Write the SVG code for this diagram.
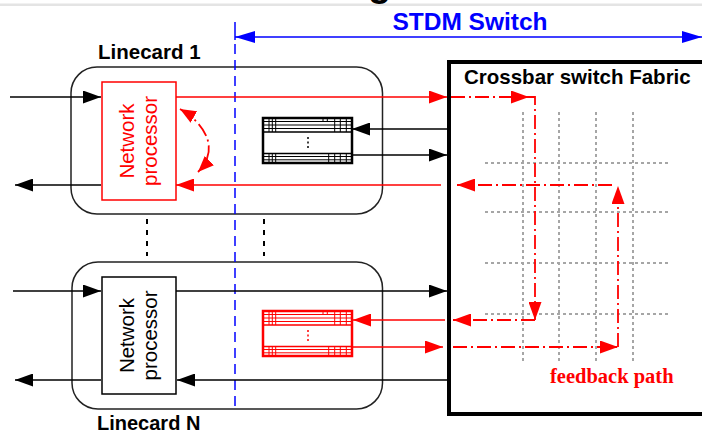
<svg xmlns="http://www.w3.org/2000/svg" width="702" height="434" viewBox="0 0 702 434">
<style>
.t{font-family:"Liberation Sans",Arial,sans-serif;font-weight:bold;}
.np{font-family:"Liberation Sans",Arial,sans-serif;font-size:20.5px;}
.blk{stroke:#000;stroke-width:1.5;fill:none;}
.red{stroke:#ff0000;stroke-width:1.5;fill:none;}
.dd{stroke:#ff0000;stroke-width:1.8;fill:none;stroke-dasharray:14 4 2 4;}
.grid{stroke:#a6a6a6;stroke-width:2;fill:none;stroke-dasharray:3 3;}
.card{stroke:#222;stroke-width:1.5;fill:#fff;}
</style>
<defs>
<marker id="mk" viewBox="0 0 18 13" refX="18" refY="6.5" markerWidth="18" markerHeight="13" markerUnits="userSpaceOnUse" orient="auto-start-reverse"><path d="M0,0L18,6.5L0,13z" fill="#000"/></marker>
<marker id="mr" viewBox="0 0 18 13" refX="18" refY="6.5" markerWidth="18" markerHeight="13" markerUnits="userSpaceOnUse" orient="auto-start-reverse"><path d="M0,0L18,6.5L0,13z" fill="#ff0000"/></marker>
<marker id="mrs" viewBox="0 0 16 13" refX="16" refY="6.5" markerWidth="16" markerHeight="13" markerUnits="userSpaceOnUse" orient="auto-start-reverse"><path d="M0,0L16,6.5L0,13z" fill="#ff0000"/></marker>
<marker id="mb" viewBox="0 0 20 12" refX="20" refY="6" markerWidth="20" markerHeight="12" markerUnits="userSpaceOnUse" orient="auto-start-reverse"><path d="M0,0L20,6L0,12z" fill="#0000ff"/></marker>
<g id="buf">
<rect x="0" y="0" width="89" height="45" fill="#fff" stroke-width="2.5"/>
<path d="M0,3.5H89M0,7H89M0,10.5H89" stroke-width="1"/>
<path d="M0,14H89M0,35.5H89" stroke-width="1.5"/>
<path d="M0,38.5H89M0,41.8H89" stroke-width="1"/>
<path d="M6,0V14M9.3,0V14M12.7,0V14M71.7,0V14M77.3,0V14M83.3,0V14M60,0V3.5M64.3,0V3.5" stroke-width="1"/>
<path d="M6,35.5V45M9.3,35.5V45M12.7,35.5V45M65.7,35.5V45M71.7,35.5V45M77.3,35.5V45M83.3,35.5V45" stroke-width="1"/>
<path d="M45,19V32" stroke-width="1.5" stroke-dasharray="2 2.5"/>
</g>
</defs>
<rect x="0" y="0" width="702" height="434" fill="#fff"/>
<rect x="0" y="3.5" width="702" height="2.5" fill="#e4e4e4"/>
<text class="t" x="368" y="-4" font-size="38" fill="#000">g</text>

<!-- STDM switch extent -->
<g id="stdm">
<path d="M235,22V40" stroke="#0000ff" stroke-width="1.5"/>
<path d="M235,37H702" stroke="#0000ff" stroke-width="1.5" marker-start="url(#mb)" marker-end="url(#mb)"/>
<text class="t" x="470" y="29.5" font-size="24.5" fill="#0000ff" text-anchor="middle">STDM Switch</text>
</g>

<!-- Linecard boxes -->
<g id="linecard1">
<rect class="card" x="71" y="67" width="311.5" height="147" rx="26"/>
<text class="t" x="98" y="59" font-size="20.5" fill="#000">Linecard 1</text>
</g>
<g id="linecardN">
<rect class="card" x="72" y="262" width="310.5" height="147" rx="26"/>
<text class="t" x="97" y="430" font-size="20" fill="#000">Linecard N</text>
</g>

<!-- Crossbar -->
<g id="crossbar">
<rect x="449" y="62" width="300" height="352" fill="#fff" stroke="#000" stroke-width="4"/>
<text class="t" x="464" y="84" font-size="20.5" fill="#000">Crossbar switch Fabric</text>
<path class="grid" d="M523,112V362M559,112V362M596,112V362M633,112V362"/>
<path class="grid" d="M485,163H669M485,212H669M485,263H669M485,314H669"/>
</g>

<!-- blue boundary -->
<path d="M235,44V408" stroke="#0000ff" stroke-width="1.5" stroke-dasharray="10 6"/>

<!-- inter-card dots -->
<path d="M147,219V256M264,219V256" stroke="#000" stroke-width="2" stroke-dasharray="5 6"/>

<!-- connectors -->
<g id="connectors">
<path class="blk" d="M10,97H101" marker-end="url(#mk)"/>
<path class="blk" d="M101,185H15" marker-end="url(#mk)"/>
<path class="blk" d="M447,129H352" marker-end="url(#mk)"/>
<path class="blk" d="M352,155H447" marker-end="url(#mk)"/>
<path class="blk" d="M13,291H101" marker-end="url(#mk)"/>
<path class="blk" d="M101,380H15" marker-end="url(#mk)"/>
<path class="blk" d="M176,291H447" marker-end="url(#mk)"/>
<path class="blk" d="M447,380H177" marker-end="url(#mk)"/>

<path class="red" d="M176,97H447" marker-end="url(#mr)"/>
<path class="red" d="M441,185H176" marker-end="url(#mr)"/>
<path class="red" d="M445,320H353" marker-end="url(#mr)"/>
<path class="red" d="M352,347H443" marker-end="url(#mr)"/>

<path class="dd" d="M451,97H529" marker-end="url(#mr)"/>
<path class="dd" d="M529,97H535V320" marker-end="url(#mr)"/>
<path class="dd" d="M535,320H453" marker-end="url(#mr)"/>
<path class="dd" d="M453,347H618" marker-end="url(#mr)"/>
<path class="dd" d="M618,347V186" marker-end="url(#mr)"/>
<path class="dd" d="M612,185H457" marker-end="url(#mr)"/>
<path class="dd" d="M180,109C206,124 220,150 198,172" marker-start="url(#mrs)" marker-end="url(#mrs)"/>
</g>

<!-- network processors -->
<g id="np1">
<rect x="102" y="82" width="74" height="118" fill="#fff" stroke="#ff0000" stroke-width="1.5"/>
<text class="np" fill="#ff0000" text-anchor="middle" transform="translate(133.5,141) rotate(-90)">Network</text>
<text class="np" fill="#ff0000" text-anchor="middle" transform="translate(156.5,141) rotate(-90)">processor</text>
</g>
<g id="npN">
<rect x="102" y="277" width="74" height="117" fill="#fff" stroke="#000" stroke-width="1.5"/>
<text class="np" fill="#000" text-anchor="middle" transform="translate(133.5,335.5) rotate(-90)">Network</text>
<text class="np" fill="#000" text-anchor="middle" transform="translate(156.5,335.5) rotate(-90)">processor</text>
</g>

<!-- buffers -->
<g id="buffer1" transform="translate(263,118)" stroke="#000" fill="none"><use href="#buf"/></g>
<g id="bufferN" transform="translate(263,311)" stroke="#ff0000" fill="none"><use href="#buf"/></g>

<text x="550" y="382.5" font-family="'Liberation Serif','Times New Roman',serif" font-weight="bold" font-size="20.5" fill="#ff0000">feedback path</text>
</svg>
